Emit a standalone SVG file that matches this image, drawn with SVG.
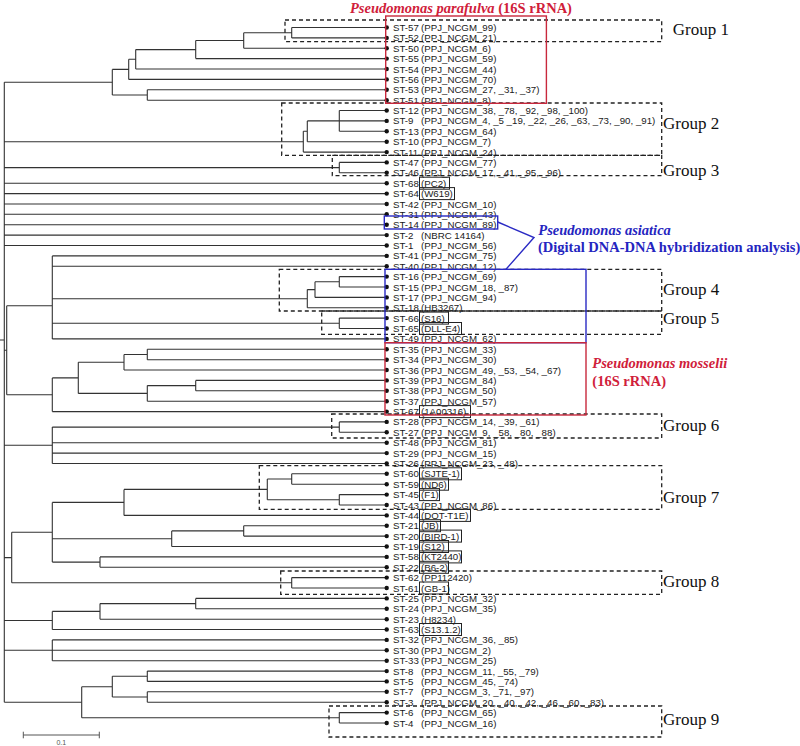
<svg xmlns="http://www.w3.org/2000/svg" width="800" height="746" viewBox="0 0 800 746">
<style>
.br{fill:none;stroke:#333;stroke-width:1.1}
.lf circle{fill:#111}
.lf text{font-family:"Liberation Sans",Arial,sans-serif;font-size:9.7px;fill:#1a1a1a}
.bx{fill:none;stroke:#222;stroke-width:1}
.grp{fill:none;stroke:#222;stroke-width:1.3;stroke-dasharray:4 3}
.gt{font-family:"Liberation Serif","Times New Roman",serif;font-size:17px;fill:#111}
.an{font-family:"Liberation Serif","Times New Roman",serif;font-size:14.5px;font-weight:bold}
.rd{fill:#d0203a}
.bl{fill:#2525c0}
.rbox{fill:none;stroke:#c8283c;stroke-width:1.4}
.bbox{fill:none;stroke:#2a2ac4;stroke-width:1.4}
</style>
<rect width="800" height="746" fill="#fff"/>
<g id="connectors" class="br">
<path d="M0,340H4.3 M4.3,82.2V702.3 M4.3,82.2H112.3 M4.3,141.7H303.3 M4.3,167.6H339.3 M4.3,183.2H386.7 M4.3,193.6H386.7 M4.3,204H386.7 M4.3,214.3H386.7 M4.3,224.7H386.7 M4.3,235.1H386.7 M4.3,245.5H386.7 M4.3,350.2H6.7 M4.3,445.3H52.3 M4.3,557.6H11.7 M4.3,620.5H52.3 M4.3,650.3H386.7 M4.3,702.3H81.7"/>
<path d="M112.3,69.4V95 M112.3,69.4H128.7 M112.3,95H147.3 M128.7,59.3V79.4 M128.7,59.3H135.7 M128.7,79.4H386.7 M135.7,49.6V69 M135.7,49.6H195.7 M135.7,69H386.7 M195.7,40.5V58.6 M195.7,40.5H243.7 M195.7,58.6H386.7 M243.7,32.7V48.3 M243.7,32.7H291.7 M243.7,48.3H386.7 M291.7,27.5V37.9 M291.7,27.5H386.7 M291.7,37.9H386.7 M147.3,89.8V100.2 M147.3,89.8H386.7 M147.3,100.2H386.7"/>
<path d="M303.3,131.3V152.1 M303.3,131.3H307.3 M303.3,152.1H386.7 M307.3,120.9V141.7 M307.3,120.9H339.3 M307.3,141.7H386.7 M339.3,110.5V131.3 M339.3,110.5H386.7 M339.3,120.9H386.7 M339.3,131.3H386.7 M339.3,162.4V172.8 M339.3,162.4H386.7 M339.3,172.8H386.7"/>
<path d="M6.7,305.7V394.8 M6.7,305.7H52.3 M6.7,394.8H52.3 M52.3,255.9V338.9 M52.3,255.9H386.7 M52.3,266.2H386.7 M52.3,298.7H307.3 M52.3,323.3H339.3 M52.3,338.9H386.7 M307.3,289.6V307.8 M307.3,289.6H315 M307.3,307.8H386.7 M315,281.8V297.4 M315,281.8H339.3 M315,297.4H386.7 M339.3,276.6V287 M339.3,276.6H386.7 M339.3,287H386.7 M339.3,318.1V328.5 M339.3,318.1H386.7 M339.3,328.5H386.7"/>
<path d="M52.3,377.9V411.6 M52.3,377.9H78.3 M52.3,411.6H386.7 M78.3,362.3V393.4 M78.3,362.3H124 M78.3,393.4H147.3 M124,354.5V370 M124,354.5H147.3 M124,370H386.7 M147.3,349.3V359.7 M147.3,349.3H386.7 M147.3,359.7H386.7 M147.3,385.6V401.2 M147.3,385.6H195.7 M147.3,401.2H386.7 M195.7,380.4V390.8 M195.7,380.4H386.7 M195.7,390.8H386.7"/>
<path d="M52.3,427.1V463.5 M52.3,427.1H339.3 M52.3,442.7H386.7 M52.3,453.1H386.7 M52.3,463.5H386.7 M339.3,421.9V432.3 M339.3,421.9H386.7 M339.3,432.3H386.7"/>
<path d="M11.7,532.3V582.8 M11.7,532.3H52.3 M11.7,582.8H291.7 M52.3,502.4V562.1 M52.3,502.4H124 M52.3,538.7H171.7 M52.3,562.1H100 M124,489.4V515.4 M124,489.4H267.3 M124,515.4H386.7 M267.3,479V499.8 M267.3,479H291.7 M267.3,499.8H339.3 M291.7,473.8V484.2 M291.7,473.8H386.7 M291.7,484.2H386.7 M339.3,494.6V505 M339.3,494.6H386.7 M339.3,505H386.7 M171.7,530.9V546.5 M171.7,530.9H243.7 M171.7,546.5H386.7 M243.7,525.7V536.1 M243.7,525.7H386.7 M243.7,536.1H386.7 M100,556.9V567.3 M100,556.9H386.7 M100,567.3H386.7 M291.7,577.6V588 M291.7,577.6H386.7 M291.7,588H386.7"/>
<path d="M52.3,611.4V629.5 M52.3,611.4H100 M52.3,629.5H386.7 M100,603.6V619.2 M100,603.6H195.7 M100,619.2H386.7 M195.7,598.4V608.8 M195.7,598.4H386.7 M195.7,608.8H386.7 M52.3,639.9V660.7 M52.3,639.9H386.7 M52.3,660.7H386.7"/>
<path d="M81.7,686.7V717.8 M81.7,686.7H112.3 M81.7,717.8H339.3 M112.3,676.3V697 M112.3,676.3H147.3 M112.3,697H147.3 M147.3,671.1V681.4 M147.3,671.1H386.7 M147.3,681.4H386.7 M147.3,691.8V702.2 M147.3,691.8H386.7 M147.3,702.2H386.7 M339.3,712.6V723 M339.3,712.6H386.7 M339.3,723H386.7"/>
</g>
<g id="groups">
<rect class="grp" x="285" y="20" width="376.7" height="21.7"/>
<rect class="grp" x="281.7" y="103" width="380" height="52.3"/>
<rect class="grp" x="332.3" y="155.3" width="329.4" height="20.4"/>
<rect class="grp" x="279.3" y="269.3" width="382.4" height="41.7"/>
<rect class="grp" x="321.7" y="311" width="340" height="23.3"/>
<rect class="grp" x="331.7" y="414" width="330" height="24"/>
<rect class="grp" x="259.3" y="465.7" width="402.4" height="43.6"/>
<rect class="grp" x="280.7" y="571" width="381" height="23.3"/>
<rect class="grp" x="329" y="706" width="332.7" height="31"/>
<text class="gt" x="672.7" y="35">Group 1</text>
<text class="gt" x="663" y="128.6">Group 2</text>
<text class="gt" x="663" y="176.3">Group 3</text>
<text class="gt" x="663" y="295.3">Group 4</text>
<text class="gt" x="663" y="324">Group 5</text>
<text class="gt" x="663" y="430.6">Group 6</text>
<text class="gt" x="663" y="503">Group 7</text>
<text class="gt" x="663" y="587">Group 8</text>
<text class="gt" x="663" y="725">Group 9</text>
</g>
<g id="leaves" class="lf">
<g id="st57"><circle cx="386.7" cy="27.5" r="2.2"/><text x="393" y="31">ST-57</text><text x="421" y="31">(PPJ_NCGM_99)</text></g>
<g id="st52"><circle cx="386.7" cy="37.9" r="2.2"/><text x="393" y="41.4">ST-52</text><text x="421" y="41.4">(PPJ_NCGM_21)</text></g>
<g id="st50"><circle cx="386.7" cy="48.3" r="2.2"/><text x="393" y="51.8">ST-50</text><text x="421" y="51.8">(PPJ_NCGM_6)</text></g>
<g id="st55"><circle cx="386.7" cy="58.6" r="2.2"/><text x="393" y="62.1">ST-55</text><text x="421" y="62.1">(PPJ_NCGM_59)</text></g>
<g id="st54"><circle cx="386.7" cy="69" r="2.2"/><text x="393" y="72.5">ST-54</text><text x="421" y="72.5">(PPJ_NCGM_44)</text></g>
<g id="st56"><circle cx="386.7" cy="79.4" r="2.2"/><text x="393" y="82.9">ST-56</text><text x="421" y="82.9">(PPJ_NCGM_70)</text></g>
<g id="st53"><circle cx="386.7" cy="89.8" r="2.2"/><text x="393" y="93.3">ST-53</text><text x="421" y="93.3">(PPJ_NCGM_27, _31, _37)</text></g>
<g id="st51"><circle cx="386.7" cy="100.2" r="2.2"/><text x="393" y="103.7">ST-51</text><text x="421" y="103.7">(PPJ_NCGM_8)</text></g>
<g id="st12"><circle cx="386.7" cy="110.5" r="2.2"/><text x="393" y="114">ST-12</text><text x="421" y="114">(PPJ_NCGM_38, _78, _92, _98, _100)</text></g>
<g id="st9"><circle cx="386.7" cy="120.9" r="2.2"/><text x="393" y="124.4">ST-9</text><text x="421" y="124.4">(PPJ_NCGM_4, _5 _19, _22, _26, _63, _73, _90, _91)</text></g>
<g id="st13"><circle cx="386.7" cy="131.3" r="2.2"/><text x="393" y="134.8">ST-13</text><text x="421" y="134.8">(PPJ_NCGM_64)</text></g>
<g id="st10"><circle cx="386.7" cy="141.7" r="2.2"/><text x="393" y="145.2">ST-10</text><text x="421" y="145.2">(PPJ_NCGM_7)</text></g>
<g id="st11"><circle cx="386.7" cy="152.1" r="2.2"/><text x="393" y="155.6">ST-11</text><text x="421" y="155.6">(PPJ_NCGM_24)</text></g>
<g id="st47"><circle cx="386.7" cy="162.4" r="2.2"/><text x="393" y="165.9">ST-47</text><text x="421" y="165.9">(PPJ_NCGM_77)</text></g>
<g id="st46"><circle cx="386.7" cy="172.8" r="2.2"/><text x="393" y="176.3">ST-46</text><text x="421" y="176.3">(PPJ_NCGM_17, _41, _95, _96)</text></g>
<g id="st68"><circle cx="386.7" cy="183.2" r="2.2"/><text x="393" y="186.7">ST-68</text><rect class="bx" x="419.5" y="177.2" width="30" height="12"/><text x="421" y="186.7">(PC2)</text></g>
<g id="st64"><circle cx="386.7" cy="193.6" r="2.2"/><text x="393" y="197.1">ST-64</text><rect class="bx" x="419.5" y="187.6" width="35" height="12"/><text x="421" y="197.1">(W619)</text></g>
<g id="st42"><circle cx="386.7" cy="204" r="2.2"/><text x="393" y="207.5">ST-42</text><text x="421" y="207.5">(PPJ_NCGM_10)</text></g>
<g id="st31"><circle cx="386.7" cy="214.3" r="2.2"/><text x="393" y="217.8">ST-31</text><text x="421" y="217.8">(PPJ_NCGM_43)</text></g>
<g id="st14"><circle cx="386.7" cy="224.7" r="2.2"/><text x="393" y="228.2">ST-14</text><text x="421" y="228.2">(PPJ_NCGM_89)</text></g>
<g id="st2"><circle cx="386.7" cy="235.1" r="2.2"/><text x="393" y="238.6">ST-2</text><text x="421" y="238.6">(NBRC 14164)</text></g>
<g id="st1"><circle cx="386.7" cy="245.5" r="2.2"/><text x="393" y="249">ST-1</text><text x="421" y="249">(PPJ_NCGM_56)</text></g>
<g id="st41"><circle cx="386.7" cy="255.9" r="2.2"/><text x="393" y="259.4">ST-41</text><text x="421" y="259.4">(PPJ_NCGM_75)</text></g>
<g id="st40"><circle cx="386.7" cy="266.2" r="2.2"/><text x="393" y="269.7">ST-40</text><text x="421" y="269.7">(PPJ_NCGM_12)</text></g>
<g id="st16"><circle cx="386.7" cy="276.6" r="2.2"/><text x="393" y="280.1">ST-16</text><text x="421" y="280.1">(PPJ_NCGM_69)</text></g>
<g id="st15"><circle cx="386.7" cy="287" r="2.2"/><text x="393" y="290.5">ST-15</text><text x="421" y="290.5">(PPJ_NCGM_18, _87)</text></g>
<g id="st17"><circle cx="386.7" cy="297.4" r="2.2"/><text x="393" y="300.9">ST-17</text><text x="421" y="300.9">(PPJ_NCGM_94)</text></g>
<g id="st18"><circle cx="386.7" cy="307.8" r="2.2"/><text x="393" y="311.3">ST-18</text><text x="421" y="311.3">(HB3267)</text></g>
<g id="st66"><circle cx="386.7" cy="318.1" r="2.2"/><text x="393" y="321.6">ST-66</text><rect class="bx" x="419.5" y="312.1" width="29" height="12"/><text x="421" y="321.6">(S16)</text></g>
<g id="st65"><circle cx="386.7" cy="328.5" r="2.2"/><text x="393" y="332">ST-65</text><rect class="bx" x="419.5" y="322.5" width="42" height="12"/><text x="421" y="332">(DLL-E4)</text></g>
<g id="st49"><circle cx="386.7" cy="338.9" r="2.2"/><text x="393" y="342.4">ST-49</text><text x="421" y="342.4">(PPJ_NCGM_62)</text></g>
<g id="st35"><circle cx="386.7" cy="349.3" r="2.2"/><text x="393" y="352.8">ST-35</text><text x="421" y="352.8">(PPJ_NCGM_33)</text></g>
<g id="st34"><circle cx="386.7" cy="359.7" r="2.2"/><text x="393" y="363.2">ST-34</text><text x="421" y="363.2">(PPJ_NCGM_30)</text></g>
<g id="st36"><circle cx="386.7" cy="370" r="2.2"/><text x="393" y="373.5">ST-36</text><text x="421" y="373.5">(PPJ_NCGM_49, _53, _54, _67)</text></g>
<g id="st39"><circle cx="386.7" cy="380.4" r="2.2"/><text x="393" y="383.9">ST-39</text><text x="421" y="383.9">(PPJ_NCGM_84)</text></g>
<g id="st38"><circle cx="386.7" cy="390.8" r="2.2"/><text x="393" y="394.3">ST-38</text><text x="421" y="394.3">(PPJ_NCGM_50)</text></g>
<g id="st37"><circle cx="386.7" cy="401.2" r="2.2"/><text x="393" y="404.7">ST-37</text><text x="421" y="404.7">(PPJ_NCGM_57)</text></g>
<g id="st67"><circle cx="386.7" cy="411.6" r="2.2"/><text x="393" y="415.1">ST-67</text><rect class="bx" x="419.5" y="405.6" width="51" height="12"/><text x="421" y="415.1">(1A00316)</text></g>
<g id="st28"><circle cx="386.7" cy="421.9" r="2.2"/><text x="393" y="425.4">ST-28</text><text x="421" y="425.4">(PPJ_NCGM_14, _39, _61)</text></g>
<g id="st27"><circle cx="386.7" cy="432.3" r="2.2"/><text x="393" y="435.8">ST-27</text><text x="421" y="435.8">(PPJ_NCGM_9, _58, _80, _88)</text></g>
<g id="st48"><circle cx="386.7" cy="442.7" r="2.2"/><text x="393" y="446.2">ST-48</text><text x="421" y="446.2">(PPJ_NCGM_81)</text></g>
<g id="st29"><circle cx="386.7" cy="453.1" r="2.2"/><text x="393" y="456.6">ST-29</text><text x="421" y="456.6">(PPJ_NCGM_15)</text></g>
<g id="st26"><circle cx="386.7" cy="463.5" r="2.2"/><text x="393" y="467">ST-26</text><text x="421" y="467">(PPJ_NCGM_23, _48)</text></g>
<g id="st60"><circle cx="386.7" cy="473.8" r="2.2"/><text x="393" y="477.3">ST-60</text><rect class="bx" x="419.5" y="467.8" width="42" height="12"/><text x="421" y="477.3">(SJTE-1)</text></g>
<g id="st59"><circle cx="386.7" cy="484.2" r="2.2"/><text x="393" y="487.7">ST-59</text><rect class="bx" x="419.5" y="478.2" width="29" height="12"/><text x="421" y="487.7">(ND6)</text></g>
<g id="st45"><circle cx="386.7" cy="494.6" r="2.2"/><text x="393" y="498.1">ST-45</text><rect class="bx" x="419.5" y="488.6" width="20" height="12"/><text x="421" y="498.1">(F1)</text></g>
<g id="st43"><circle cx="386.7" cy="505" r="2.2"/><text x="393" y="508.5">ST-43</text><text x="421" y="508.5">(PPJ_NCGM_86)</text></g>
<g id="st44"><circle cx="386.7" cy="515.4" r="2.2"/><text x="393" y="518.9">ST-44</text><rect class="bx" x="419.5" y="509.4" width="51" height="12"/><text x="421" y="518.9">(DOT-T1E)</text></g>
<g id="st21"><circle cx="386.7" cy="525.7" r="2.2"/><text x="393" y="529.2">ST-21</text><rect class="bx" x="419.5" y="519.7" width="21" height="12"/><text x="421" y="529.2">(JB)</text></g>
<g id="st20"><circle cx="386.7" cy="536.1" r="2.2"/><text x="393" y="539.6">ST-20</text><rect class="bx" x="419.5" y="530.1" width="42" height="12"/><text x="421" y="539.6">(BIRD-1)</text></g>
<g id="st19"><circle cx="386.7" cy="546.5" r="2.2"/><text x="393" y="550">ST-19</text><rect class="bx" x="419.5" y="540.5" width="29" height="12"/><text x="421" y="550">(S12)</text></g>
<g id="st58"><circle cx="386.7" cy="556.9" r="2.2"/><text x="393" y="560.4">ST-58</text><rect class="bx" x="419.5" y="550.9" width="42" height="12"/><text x="421" y="560.4">(KT2440)</text></g>
<g id="st22"><circle cx="386.7" cy="567.3" r="2.2"/><text x="393" y="570.8">ST-22</text><rect class="bx" x="419.5" y="561.3" width="29" height="12"/><text x="421" y="570.8">(B6-2)</text></g>
<g id="st62"><circle cx="386.7" cy="577.6" r="2.2"/><text x="393" y="581.1">ST-62</text><text x="421" y="581.1">(PP112420)</text></g>
<g id="st61"><circle cx="386.7" cy="588" r="2.2"/><text x="393" y="591.5">ST-61</text><rect class="bx" x="419.5" y="582" width="29" height="12"/><text x="421" y="591.5">(GB-1)</text></g>
<g id="st25"><circle cx="386.7" cy="598.4" r="2.2"/><text x="393" y="601.9">ST-25</text><text x="421" y="601.9">(PPJ_NCGM_32)</text></g>
<g id="st24"><circle cx="386.7" cy="608.8" r="2.2"/><text x="393" y="612.3">ST-24</text><text x="421" y="612.3">(PPJ_NCGM_35)</text></g>
<g id="st23"><circle cx="386.7" cy="619.2" r="2.2"/><text x="393" y="622.7">ST-23</text><text x="421" y="622.7">(H8234)</text></g>
<g id="st63"><circle cx="386.7" cy="629.5" r="2.2"/><text x="393" y="633">ST-63</text><rect class="bx" x="419.5" y="623.5" width="42" height="12"/><text x="421" y="633">(S13.1.2)</text></g>
<g id="st32"><circle cx="386.7" cy="639.9" r="2.2"/><text x="393" y="643.4">ST-32</text><text x="421" y="643.4">(PPJ_NCGM_36, _85)</text></g>
<g id="st30"><circle cx="386.7" cy="650.3" r="2.2"/><text x="393" y="653.8">ST-30</text><text x="421" y="653.8">(PPJ_NCGM_2)</text></g>
<g id="st33"><circle cx="386.7" cy="660.7" r="2.2"/><text x="393" y="664.2">ST-33</text><text x="421" y="664.2">(PPJ_NCGM_25)</text></g>
<g id="st8"><circle cx="386.7" cy="671.1" r="2.2"/><text x="393" y="674.6">ST-8</text><text x="421" y="674.6">(PPJ_NCGM_11, _55, _79)</text></g>
<g id="st5"><circle cx="386.7" cy="681.4" r="2.2"/><text x="393" y="684.9">ST-5</text><text x="421" y="684.9">(PPJ_NCGM_45, _74)</text></g>
<g id="st7"><circle cx="386.7" cy="691.8" r="2.2"/><text x="393" y="695.3">ST-7</text><text x="421" y="695.3">(PPJ_NCGM_3, _71, _97)</text></g>
<g id="st3"><circle cx="386.7" cy="702.2" r="2.2"/><text x="393" y="705.7">ST-3</text><text x="421" y="705.7">(PPJ_NCGM_20, _40, _42, _46, _60, _83)</text></g>
<g id="st6"><circle cx="386.7" cy="712.6" r="2.2"/><text x="393" y="716.1">ST-6</text><text x="421" y="716.1">(PPJ_NCGM_65)</text></g>
<g id="st4"><circle cx="386.7" cy="723" r="2.2"/><text x="393" y="726.5">ST-4</text><text x="421" y="726.5">(PPJ_NCGM_16)</text></g>
</g>
<g id="parafulva">
<rect class="rbox" x="385.7" y="16" width="160.7" height="87.3"/>
<text class="an rd" x="350" y="12.5"><tspan font-style="italic">Pseudomonas parafulva</tspan> (16S rRNA)</text>
</g>
<g id="asiatica">
<rect class="bbox" x="384.3" y="216" width="113.4" height="13"/>
<rect class="bbox" x="385" y="269.3" width="201" height="73.4"/>
<polyline class="bbox" points="497.7,222 534,237.5 506,269.3"/>
<text class="an bl" x="538.3" y="235" font-style="italic">Pseudomonas asiatica</text>
<text class="an bl" x="538" y="252.3">(Digital DNA-DNA hybridization analysis)</text>
</g>
<g id="mosselii">
<rect class="rbox" x="385" y="342.7" width="201" height="72.3"/>
<text class="an rd" x="592.3" y="368.3" font-style="italic">Pseudomonas mosselii</text>
<text class="an rd" x="592.3" y="385.7">(16S rRNA)</text>
</g>
<g id="scalebar">
<path d="M23.3,735H99.3 M23.3,731.7V738.3 M99.3,731.7V738.3" fill="none" stroke="#555" stroke-width="1"/>
<text x="61.3" y="745" text-anchor="middle" font-family="Liberation Sans, Arial, sans-serif" font-size="7" fill="#555">0.1</text>
</g>
</svg>
